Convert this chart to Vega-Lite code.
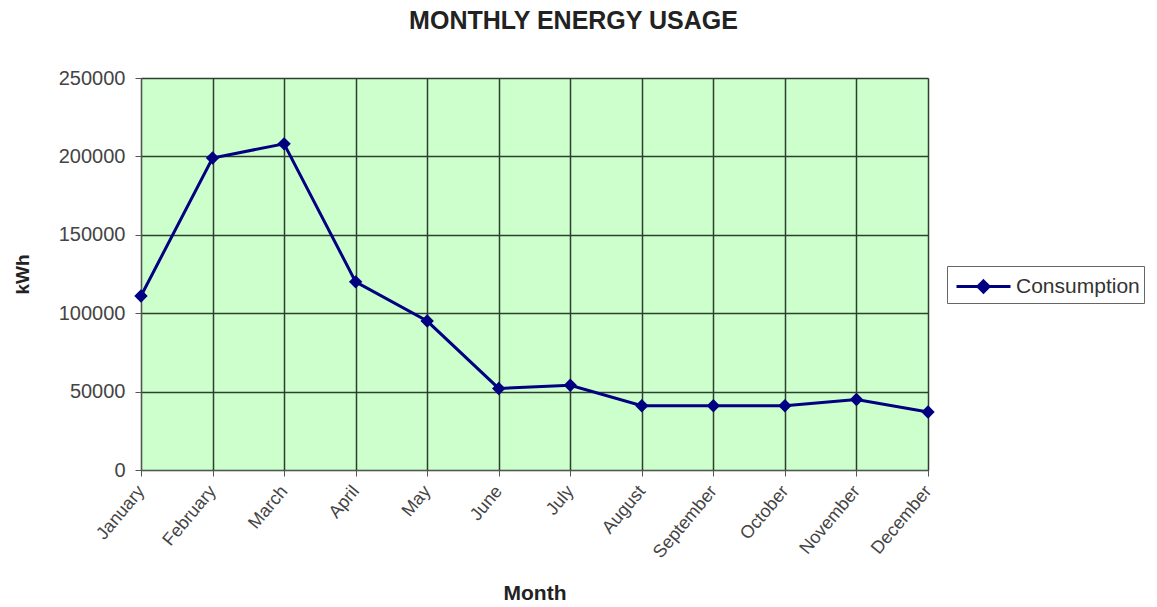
{
  "$schema": "https://vega.github.io/schema/vega-lite/v6.json",
  "autosize": "none",
  "width": 787,
  "height": 392,
  "padding": {"left": 141, "top": 78, "right": 229, "bottom": 137},
  "background": "white",
  "title": {
    "text": "MONTHLY ENERGY USAGE",
    "font": "Liberation Sans",
    "fontSize": 25,
    "fontWeight": "bold",
    "color": "#222222",
    "anchor": "middle",
    "dx": 39,
    "offset": 34
  },
  "config": {
    "view": {"fill": "#ccffcc", "stroke": "#999999", "strokeWidth": 1},
    "axis": {
      "labelFont": "Liberation Sans",
      "titleFont": "Liberation Sans",
      "labelColor": "#444444",
      "titleColor": "#222222",
      "gridColor": "#2f3f2f",
      "gridWidth": 1.5,
      "gridOpacity": 1,
      "domainColor": "#555555",
      "tickColor": "#555555",
      "tickSize": 6
    }
  },
  "data": {
    "values": [
      {"month": "January", "kwh": 111000, "series": "Consumption"},
      {"month": "February", "kwh": 199000, "series": "Consumption"},
      {"month": "March", "kwh": 208000, "series": "Consumption"},
      {"month": "April", "kwh": 120000, "series": "Consumption"},
      {"month": "May", "kwh": 95000, "series": "Consumption"},
      {"month": "June", "kwh": 52000, "series": "Consumption"},
      {"month": "July", "kwh": 54000, "series": "Consumption"},
      {"month": "August", "kwh": 41000, "series": "Consumption"},
      {"month": "September", "kwh": 41000, "series": "Consumption"},
      {"month": "October", "kwh": 41000, "series": "Consumption"},
      {"month": "November", "kwh": 45000, "series": "Consumption"},
      {"month": "December", "kwh": 37000, "series": "Consumption"}
    ]
  },
  "encoding": {
    "x": {
      "field": "month",
      "type": "ordinal",
      "sort": null,
      "scale": {"type": "point", "padding": 0},
      "axis": {
        "title": "Month",
        "titleFontSize": 21,
        "titleFontWeight": "bold",
        "titlePadding": 21,
        "labelAngle": -50,
        "labelAlign": "right",
        "labelBaseline": "middle",
        "labelFontSize": 18,
        "labelPadding": 12,
        "grid": true
      }
    },
    "y": {
      "field": "kwh",
      "type": "quantitative",
      "scale": {"domain": [0, 250000], "nice": false},
      "axis": {
        "title": "kWh",
        "titleFontSize": 19,
        "titleFontWeight": "bold",
        "titlePadding": 26,
        "values": [0, 50000, 100000, 150000, 200000, 250000],
        "format": "d",
        "labelFontSize": 20,
        "labelPadding": 10,
        "grid": true
      }
    },
    "color": {
      "field": "series",
      "type": "nominal",
      "scale": {"range": ["#000080"]},
      "legend": {
        "title": null,
        "orient": "none",
        "legendX": 806,
        "legendY": 188,
        "strokeColor": "#666666",
        "padding": 4,
        "labelFont": "Liberation Sans",
        "labelFontSize": 21,
        "labelColor": "#333333",
        "symbolType": "M-1.8,0L1.8,0M0,-0.37L0.37,0L0,0.37L-0.37,0Z",
        "symbolSize": 900,
        "symbolOffset": 16,
        "symbolStrokeWidth": 3,
        "symbolFillColor": "#000080",
        "symbolStrokeColor": "#000080",
        "labelOffset": 16
      }
    }
  },
  "layer": [
    {"mark": {"type": "line", "strokeWidth": 3}},
    {"mark": {"type": "point", "shape": "diamond", "filled": true, "size": 180, "opacity": 1}}
  ]
}
